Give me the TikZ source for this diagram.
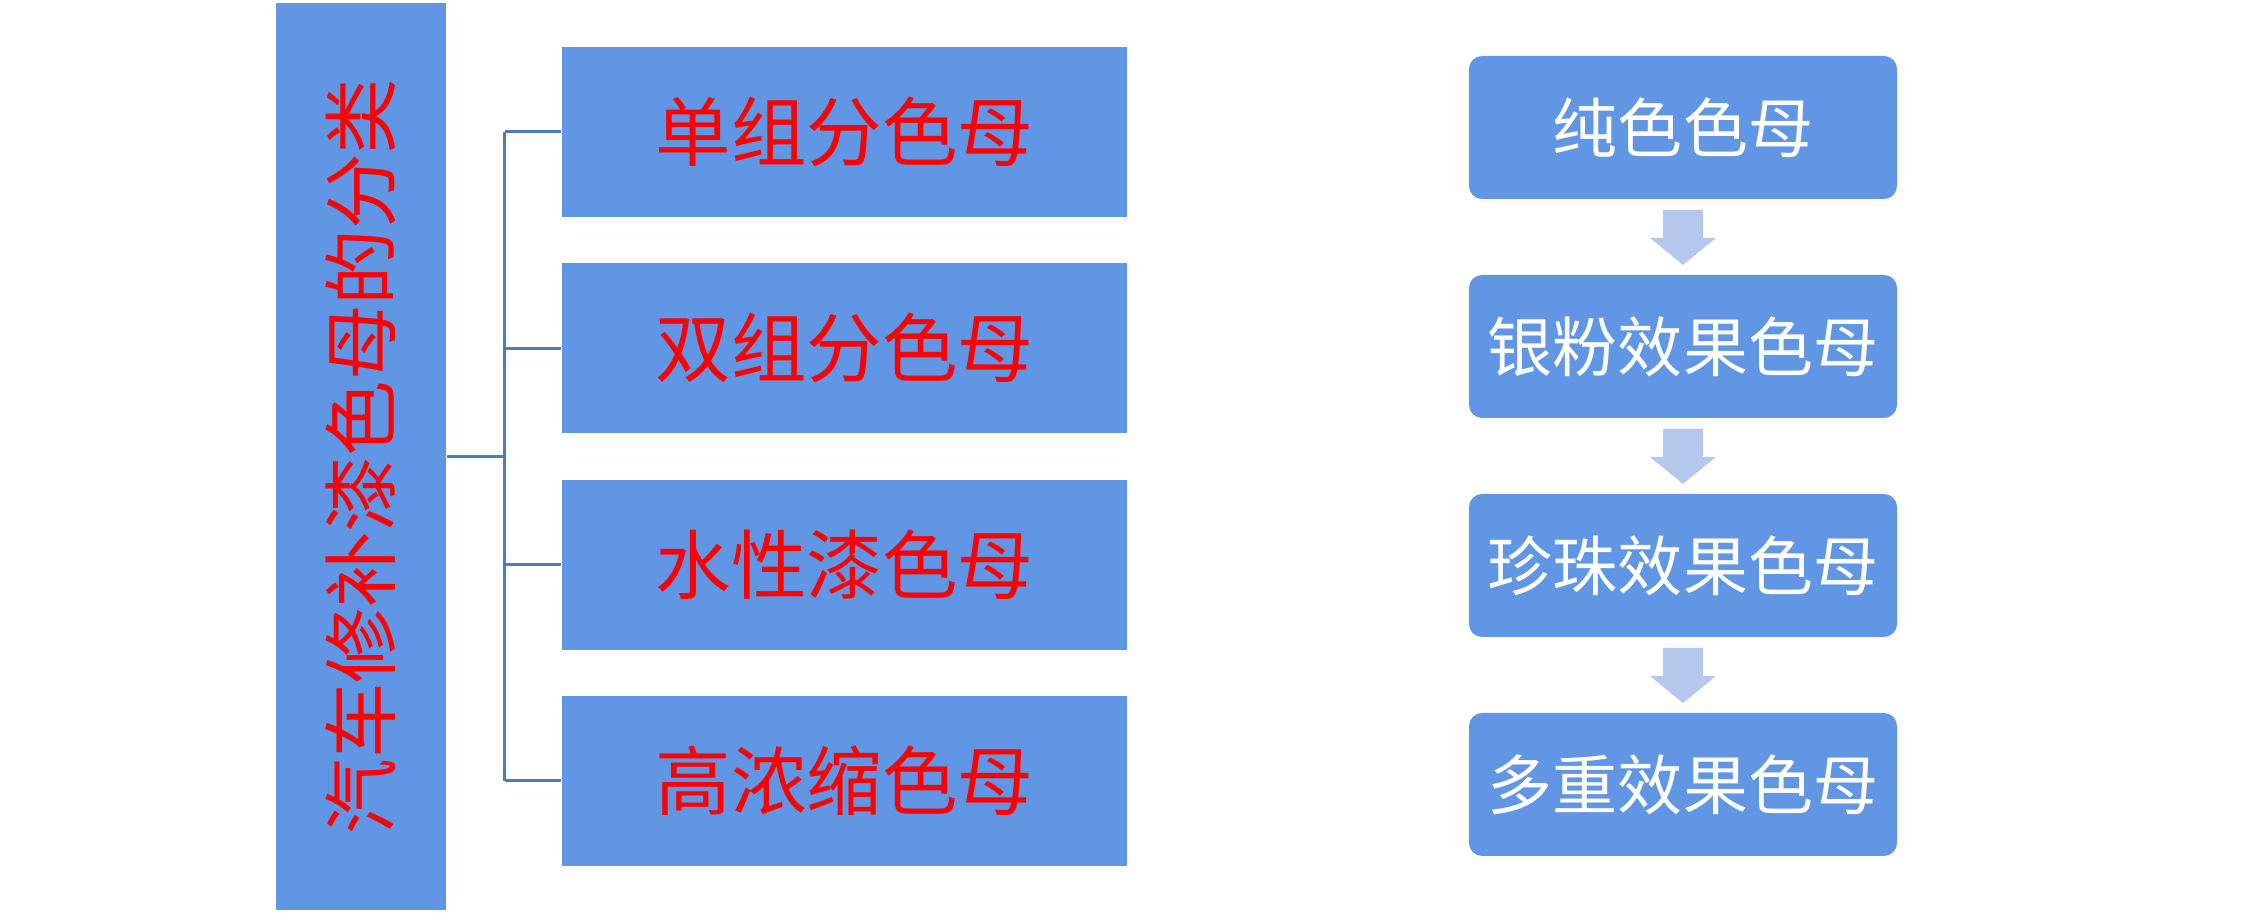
\documentclass[tikz,border=0pt]{standalone}
\usepackage{fontspec}
\newfontfamily\cjk{Noto Sans CJK SC}
\usetikzlibrary{positioning, calc}
\definecolor{boxblue}{RGB}{96,150,228}
\definecolor{arrowblue}{RGB}{180,199,236}
\definecolor{linkblue}{RGB}{79,122,191}

\begin{document}
\begin{tikzpicture}
    \tikzstyle{kind}=[rectangle,fill=boxblue,inner sep=0pt,minimum width=5.65cm,minimum height=1.70cm,text=red,font=\cjk\fontsize{21.5}{26}\selectfont]
    \tikzstyle{stage}=[rectangle,rounded corners=0.13cm,fill=boxblue,inner sep=0pt,minimum width=4.28cm,minimum height=1.43cm,text=white,font=\cjk\fontsize{18.5}{22}\selectfont]
    \tikzstyle{link}=[draw=linkblue,line width=0.85pt]

    \useasboundingbox (0,0) rectangle (22.54,9.13);

    \node (t)[rectangle,fill=boxblue,rotate=90,inner sep=0pt,minimum width=9.07cm,minimum height=1.70cm,text=red,font=\cjk\fontsize{21.5}{26}\selectfont] at (3.61,4.565) {汽车修补漆色母的分类};

    \node (a)[kind] at (8.445,7.81) {单组分色母};
    \node (b)[kind] at (8.445,5.647) {双组分色母};
    \node (c)[kind] at (8.445,3.483) {水性漆色母};
    \node (d)[kind] at (8.445,1.32) {高浓缩色母};

    \node (p)[stage] at (16.83,7.855) {纯色色母};
    \node (q)[stage] at (16.83,5.665) {银粉效果色母};
    \node (r)[stage] at (16.83,3.475) {珍珠效果色母};
    \node (s)[stage] at (16.83,1.285) {多重效果色母};

    \coordinate (j) at (5.045,4.57);
    \draw[link] (t.south) -- (j |- t.south);
    \draw[link] (j |- a.west) -- (j |- d.west);
    \foreach \n in {a,b,c,d}
        \draw[link] (j |- \n.west) -- (\n.west);

    \foreach \u/\v in {p/q,q/r,r/s}{
        \coordinate (m) at ($(\u.south)!0.5!(\v.north)$);
        \fill[arrowblue] ($(m)+(-0.20,0.27)$) -- ($(m)+(0.20,0.27)$) -- ($(m)+(0.20,-0.01)$) -- ($(m)+(0.33,-0.01)$)
            -- ($(m)+(0,-0.28)$) -- ($(m)+(-0.33,-0.01)$) -- ($(m)+(-0.20,-0.01)$) -- cycle;
    }
\end{tikzpicture}
\end{document}
